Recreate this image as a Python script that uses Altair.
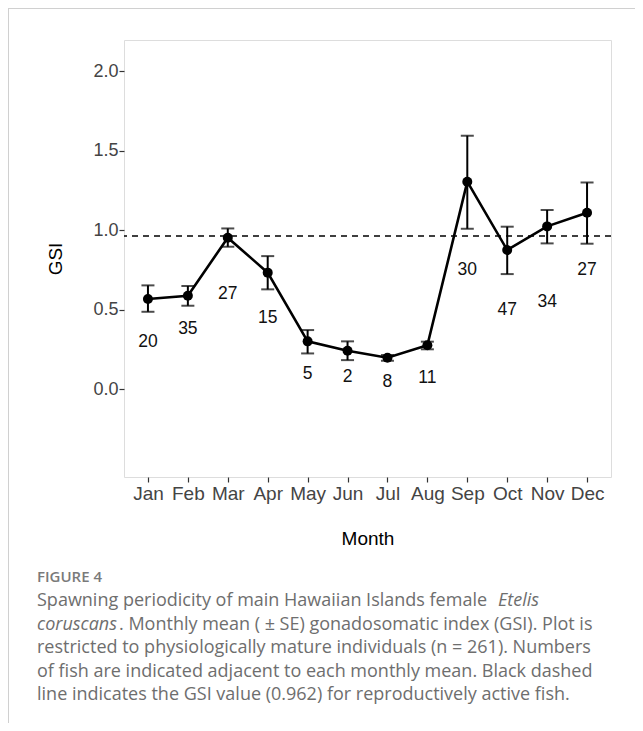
import altair as alt
import pandas as pd

months = ["Jan", "Feb", "Mar", "Apr", "May", "Jun", "Jul", "Aug", "Sep", "Oct", "Nov", "Dec"]
gsi_mean = [0.566, 0.587, 0.952, 0.732, 0.300, 0.241, 0.197, 0.275, 1.304, 0.874, 1.023, 1.109]
se_upper = [0.652, 0.648, 1.010, 0.836, 0.371, 0.300, 0.214, 0.298, 1.593, 1.021, 1.126, 1.299]
se_lower = [0.486, 0.524, 0.895, 0.627, 0.224, 0.182, 0.178, 0.250, 1.008, 0.723, 0.916, 0.914]
n_fish = [20, 35, 27, 15, 5, 2, 8, 11, 30, 47, 34, 27]
label_y = [0.293, 0.377, 0.597, 0.445, 0.092, 0.073, 0.042, 0.067, 0.748, 0.497, 0.545, 0.748]
active_gsi = 0.962
y_ticks = [0.0, 0.5, 1.0, 1.5, 2.0]

caption_head = "FIGURE 4"
caption_l1 = "Spawning periodicity of main Hawaiian Islands female"
caption_l1_it = "Etelis"
caption_l2_it = "coruscans"
caption_l2 = ". Monthly mean ( \u00b1 SE) gonadosomatic index (GSI). Plot is"
caption_rest = [
    "restricted to physiologically mature individuals (n = 261). Numbers",
    "of fish are indicated adjacent to each monthly mean. Black dashed",
    "line indicates the GSI value (0.962) for reproductively active fish.",
]

df = pd.DataFrame({
    "Month": months, "GSI": gsi_mean, "hi": se_upper, "lo": se_lower,
    "n": [str(v) for v in n_fish], "ly": label_y,
})

W, H = 487, 437
AX_FONT = "Liberation Sans, Arial, Helvetica, sans-serif"
x_enc = alt.X("Month:N", sort=months, title="Month",
              scale=alt.Scale(type="point", padding=0.6),
              axis=alt.Axis(labelFontSize=19, labelColor="#444444", labelFont=AX_FONT,
                            tickColor="#333333", tickSize=5, tickWidth=1.2, labelPadding=2,
                            domain=False, grid=False, labelAngle=0,
                            titleFont=AX_FONT, titleFontSize=19, titleFontWeight="normal",
                            titleColor="#000000", titlePadding=26))
y_scale = alt.Scale(domain=[-0.553, 2.195], nice=False, zero=False)
y_enc = alt.Y("GSI:Q", title="GSI", scale=y_scale,
              axis=alt.Axis(values=y_ticks, format=".1f", labelFontSize=18, labelColor="#444444",
                            labelFont=AX_FONT, tickColor="#333333", tickSize=5, tickWidth=1.2,
                            labelPadding=1, domain=False, grid=False,
                            titleFont=AX_FONT, titleFontSize=19, titleFontWeight="normal",
                            titleColor="#000000", titlePadding=27))

base = alt.Chart(df)

ref_line = alt.Chart(pd.DataFrame({"v": [active_gsi]})).mark_rule(
    color="#000000", strokeWidth=1.5, strokeDash=[6, 5]
).encode(y=alt.Y("v:Q", scale=y_scale))

err = base.mark_rule(color="#000000", strokeWidth=2).encode(
    x=x_enc, y=alt.Y("lo:Q", scale=y_scale), y2="hi:Q")
cap_hi = base.mark_tick(color="#000000", thickness=2, size=13).encode(
    x=alt.X("Month:N", sort=months), y=alt.Y("hi:Q", scale=y_scale))
cap_lo = base.mark_tick(color="#000000", thickness=2, size=13).encode(
    x=alt.X("Month:N", sort=months), y=alt.Y("lo:Q", scale=y_scale))
line = base.mark_line(color="#000000", strokeWidth=2.6).encode(x=x_enc, y=y_enc)
pts = base.mark_circle(color="#000000", size=100, opacity=1).encode(x=x_enc, y=y_enc)
labels = base.mark_text(font=AX_FONT, fontSize=17.5, color="#111111").encode(
    x=alt.X("Month:N", sort=months), y=alt.Y("ly:Q", scale=y_scale), text="n:N")

one = alt.Data(values=[{"k": 1}])
frame_left = alt.Chart(one).mark_rule(color="#d0d0d0", strokeWidth=1).encode(
    x=alt.value(-115.5), y=alt.value(-32), y2=alt.value(H + 246))
frame_top = alt.Chart(one).mark_rule(color="#d0d0d0", strokeWidth=1).encode(
    x=alt.value(-116), x2=alt.value(W + 24), y=alt.value(-31.5))

cap_font = "Open Sans"
cap_color = "#6e6e6e"
CS = 18
head = alt.Chart(one).mark_text(text=caption_head, font=cap_font, fontSize=15, fontWeight=600,
                                color="#7a7a7a", align="left", baseline="alphabetic").encode(
    x=alt.value(-87), y=alt.value(542))
l1 = alt.Chart(one).mark_text(text=caption_l1, font=cap_font, fontSize=CS, color=cap_color,
                              align="left", baseline="alphabetic").encode(
    x=alt.value(-87), y=alt.value(566))
l1i = alt.Chart(one).mark_text(text=caption_l1_it, font=cap_font, fontSize=CS, fontStyle="italic",
                               color=cap_color, align="right", baseline="alphabetic").encode(
    x=alt.value(539 - 124), y=alt.value(566))
l2i = alt.Chart(one).mark_text(text=caption_l2_it, font=cap_font, fontSize=CS, fontStyle="italic",
                               color=cap_color, align="left", baseline="alphabetic").encode(
    x=alt.value(-87), y=alt.value(589.6))
l2 = alt.Chart(one).mark_text(text=caption_l2, font=cap_font, fontSize=CS, color=cap_color,
                              align="left", baseline="alphabetic").encode(
    x=alt.value(119 - 124), y=alt.value(589.6))
rest = alt.Chart(one).mark_text(text=caption_rest, font=cap_font, fontSize=CS, color=cap_color,
                                align="left", baseline="alphabetic", lineHeight=23.6).encode(
    x=alt.value(-87), y=alt.value(613.2))

chart = alt.layer(
    ref_line, err, cap_hi, cap_lo, line, pts, labels,
    frame_left, frame_top, head, l1, l1i, l2i, l2, rest
).properties(
    width=W, height=H,
    autosize=alt.AutoSizeParams(type="none"),
    padding={"left": 116, "top": 32, "right": 24, "bottom": 246},
).configure_view(
    stroke="#333333", strokeWidth=1.5
).configure(background="white")

chart.save("out.html", embed_options={"renderer": "svg", "actions": False})
